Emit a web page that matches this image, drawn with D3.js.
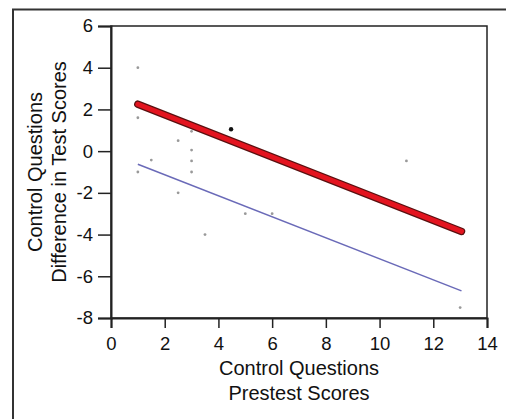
<!DOCTYPE html>
<html><head><meta charset="utf-8">
<script src="https://cdn.jsdelivr.net/npm/d3@7"></script>
<style>body{margin:0;background:#fff}svg{display:block}</style>
</head><body>
<svg id="c" width="506" height="419"></svg>
<script>
const xTicks = [0,2,4,6,8,10,12,14];
const yTicks = [-8,-6,-4,-2,0,2,4,6];
const pointsX = [1,1,1,1.5,2.5,3,3,3,3,2.5,3.5,5,6,11,13];
const pointsY = [4,1.6,-1,-0.43,0.5,0.95,0.05,-0.47,-1,-2,-4,-3,-3,-0.47,-7.5];
const highlightX = [4.47];
const highlightY = [1.05];
const redFitX = [1,13.05];
const redFitY = [2.25,-3.85];
const blueFitX = [1,13.05];
const blueFitY = [-0.63,-6.7];
const xTitle = ["Control Questions","Prestest Scores"];
const yTitle = ["Control Questions","Difference in Test Scores"];

const svg = d3.select("#c");
const font = "Liberation Sans, Arial, Helvetica, sans-serif";
const x = d3.scaleLinear().domain([0,14]).range([111,487]);
const y = d3.scaleLinear().domain([-8,6]).range([318,26]);

// outer frame (top + left)
svg.append("line").attr("x1",12).attr("x2",506).attr("y1",9.5).attr("y2",9.5).attr("stroke","#333").attr("stroke-width",2);
svg.append("line").attr("x1",13).attr("x2",13).attr("y1",9).attr("y2",419).attr("stroke","#333").attr("stroke-width",2);

// plot box
svg.append("rect").attr("x",x(0)).attr("y",y(6)).attr("width",x(14)-x(0)).attr("height",y(-8)-y(6))
  .attr("fill","none").attr("stroke","#222").attr("stroke-width",1.5);

const xAxis = svg.append("g").attr("transform",`translate(0,${y(-8)})`)
  .call(d3.axisBottom(x).tickValues(xTicks).tickSize(10).tickPadding(9).tickFormat(d3.format("d")));
const yAxis = svg.append("g").attr("transform",`translate(${x(0)},0)`)
  .call(d3.axisLeft(y).tickValues(yTicks).tickSize(13).tickPadding(5).tickFormat(d=>d<0?"-"+Math.abs(d):d));
[xAxis,yAxis].forEach(g=>{
  g.attr("font-size",18.5).attr("font-family",font);
  g.select(".domain").attr("stroke","#222").attr("stroke-width",2);
  g.selectAll(".tick line").attr("stroke","#222").attr("stroke-width",1.5);
  g.selectAll(".tick text").attr("fill","#111").style("font-family",font).style("font-size","18.5px");
});

// points
svg.append("g").selectAll("circle").data(pointsX).join("circle")
  .attr("cx",(d)=>x(d)).attr("cy",(d,i)=>y(pointsY[i])).attr("r",1.4).attr("fill","#999");
svg.append("g").selectAll("circle").data(highlightX).join("circle")
  .attr("cx",d=>x(d)).attr("cy",(d,i)=>y(highlightY[i])).attr("r",2.2).attr("fill","#111");

// blue fit
const line = d3.line().x(d=>x(d[0])).y(d=>y(d[1]));
svg.append("path").attr("d",line(blueFitX.map((v,i)=>[v,blueFitY[i]])))
  .attr("stroke","#6a6ab8").attr("stroke-width",1.5).attr("fill","none");
// red fit
const rd = line(redFitX.map((v,i)=>[v,redFitY[i]]));
svg.append("path").attr("d",rd).attr("stroke","#5a1010").attr("stroke-width",7.5).attr("stroke-linecap","round").attr("fill","none");
svg.append("path").attr("d",rd).attr("stroke","#e3141f").attr("stroke-width",5).attr("stroke-linecap","round").attr("fill","none");

// titles
const t = (tr, s) => svg.append("text").attr("transform",tr).attr("text-anchor","middle")
  .style("font-family",font).style("font-size","20px").attr("fill","#111").text(s);
t("translate(299,375)", xTitle[0]);
t("translate(299,400)", xTitle[1]);
t("translate(42,172) rotate(-90)", yTitle[0]);
t("translate(66,172) rotate(-90)", yTitle[1]);
</script>
</body></html>
